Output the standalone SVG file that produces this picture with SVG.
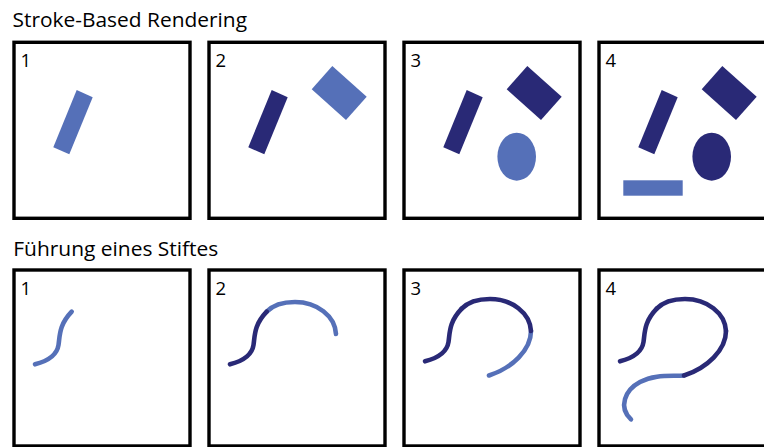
<svg xmlns="http://www.w3.org/2000/svg" xmlns:xlink="http://www.w3.org/1999/xlink" width="764" height="447" viewBox="0 0 764 447">
<style>
.frame{fill:#fff;stroke:#000;stroke-width:3.4}
.title{font-family:"Open Sans","Noto Sans",sans-serif;font-size:20px;fill:#000}
.num{font-family:"Open Sans","Noto Sans",sans-serif;font-size:18.5px;fill:#000}
.lt{fill:#5570B8}
.dk{fill:#292976}
.sl{fill:none;stroke:#5570B8;stroke-width:4.6;stroke-linecap:round}
.sd{fill:none;stroke:#292976;stroke-width:4.6;stroke-linecap:round}
</style>
<defs>
<polygon id="bar" points="76.7,90 92.7,97.3 69.3,154.3 53.3,147.3"/>
<polygon id="dia" points="137.3,66 171.7,96.7 151,120 116.7,89.3"/>
<path id="pA" d="M35,361.3 C48,358 57,352 58.5,342 C60,332 59,322 71.7,308.7"/>
<path id="pB" d="M71.7,308.7 C79,301 89,299 100,299 C122,299 140,313 141,331"/>
<path id="pB3" d="M141,331 C141,350 122,368 99,375.5"/>
<path id="pC" d="M99,375.5 C86,376.5 70,374 55,382 C40,390 33,407 46,419.3"/>
</defs>
<text class="title" x="12.5" y="27.3" textLength="234.5" lengthAdjust="spacingAndGlyphs">Stroke-Based Rendering</text>
<text class="title" x="13.3" y="255.5" textLength="205" lengthAdjust="spacingAndGlyphs">Führung eines Stiftes</text>

<g id="sbr-1">
<rect class="frame" x="14" y="42.3" width="176" height="176"/>
<text class="num" x="20.5" y="66.7">1</text>
<use href="#bar" class="lt"/>
</g>
<g id="sbr-2" transform="translate(195,0)">
<rect class="frame" x="14" y="42.3" width="176" height="176"/>
<text class="num" x="20.5" y="66.7">2</text>
<use href="#bar" class="dk"/>
<use href="#dia" class="lt"/>
</g>
<g id="sbr-3" transform="translate(390,0)">
<rect class="frame" x="14" y="42.3" width="176" height="176"/>
<text class="num" x="20.5" y="66.7">3</text>
<use href="#bar" class="dk"/>
<use href="#dia" class="dk"/>
<ellipse class="lt" cx="126.7" cy="156.7" rx="19.3" ry="24"/>
</g>
<g id="sbr-4" transform="translate(585,0)">
<rect class="frame" x="14" y="42.3" width="176" height="176"/>
<text class="num" x="20.5" y="66.7">4</text>
<use href="#bar" class="dk"/>
<use href="#dia" class="dk"/>
<ellipse class="dk" cx="126.7" cy="156.7" rx="19.3" ry="24"/>
<rect class="lt" x="38.3" y="180.3" width="59.4" height="15.4"/>
</g>

<g id="pen-1">
<rect class="frame" x="14" y="270" width="176" height="176"/>
<text class="num" x="20.5" y="295">1</text>
<g transform="translate(0,3)"><use href="#pA" class="sl"/></g>
</g>
<g id="pen-2" transform="translate(195,0)">
<rect class="frame" x="14" y="270" width="176" height="176"/>
<text class="num" x="20.5" y="295">2</text>
<g transform="translate(0,3)"><use href="#pB" class="sl"/><use href="#pA" class="sd"/></g>
</g>
<g id="pen-3" transform="translate(390,0)">
<rect class="frame" x="14" y="270" width="176" height="176"/>
<text class="num" x="20.5" y="295">3</text>
<use href="#pB3" class="sl"/><use href="#pA" class="sd"/><use href="#pB" class="sd"/>
</g>
<g id="pen-4" transform="translate(585,0)">
<rect class="frame" x="14" y="270" width="176" height="176"/>
<text class="num" x="20.5" y="295">4</text>
<use href="#pC" class="sl"/><use href="#pA" class="sd"/><use href="#pB" class="sd"/><use href="#pB3" class="sd"/>
</g>
<g id="connectors"/>
</svg>
